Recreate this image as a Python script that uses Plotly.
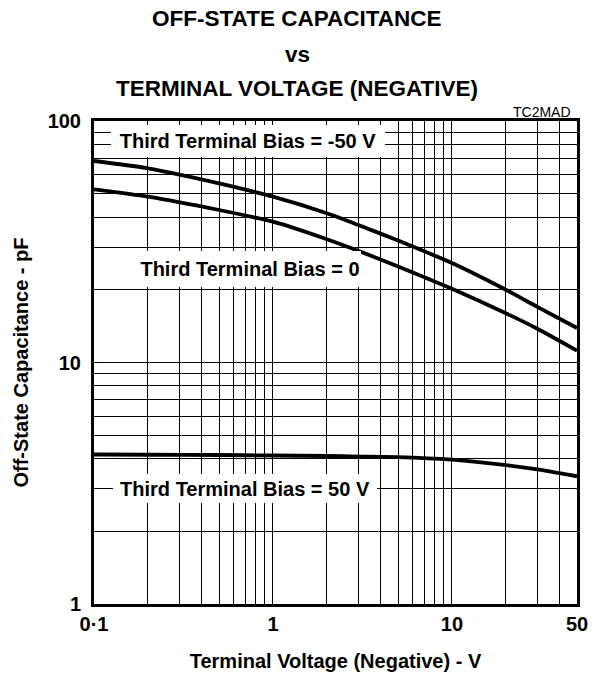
import plotly.graph_objects as go

# ---- data ----
voltage = [0.1, 0.2, 0.5, 1, 2, 3, 5, 10, 20, 30, 50]
cap_bias_neg50 = [68.3, 63.7, 55.2, 48.6, 41.5, 37.1, 32.0, 25.8, 20.0, 17.0, 13.9]
cap_bias_0 = [52.1, 48.6, 42.8, 38.3, 32.4, 29.0, 25.0, 20.2, 16.0, 13.8, 11.2]
cap_bias_pos50 = [4.16, 4.15, 4.14, 4.12, 4.10, 4.08, 4.06, 3.96, 3.76, 3.61, 3.38]

x_tick_vals = [0.1, 1, 10, 50]
x_tick_text = ["0·1", "1", "10", "50"]
x_minor_vals = [0.2, 0.3, 0.4, 0.5, 0.6, 0.7, 0.8, 0.9, 2, 3, 4, 5, 6, 7, 8, 9, 20, 30, 40]
y_tick_vals = [1, 10, 100]
y_tick_text = ["1", "10", "100"]
y_minor_vals = [2, 3, 4, 5, 6, 7, 8, 9, 20, 30, 40, 50, 60, 70, 80, 90]

series_labels = ["Third Terminal Bias = -50 V", "Third Terminal Bias = 0", "Third Terminal Bias = 50 V"]

FONT = "Liberation Sans, Arial, sans-serif"

fig = go.Figure()
for ys in (cap_bias_neg50, cap_bias_0, cap_bias_pos50):
    fig.add_trace(go.Scatter(x=voltage, y=ys, mode="lines",
                             line=dict(color="black", width=3.8, shape="spline", smoothing=0.6),
                             showlegend=False, hoverinfo="skip"))

axis_common = dict(
    showline=True, linecolor="black", linewidth=3, mirror=True,
    showgrid=True, gridcolor="black", gridwidth=1,
    zeroline=False, automargin=False,
    tickfont=dict(family=FONT, size=20, color="black", weight="bold"),
)

fig.update_xaxes(type="log", range=[-1, 1.69897], tickmode="array",
                 tickvals=x_tick_vals, ticktext=x_tick_text, ticks="",
                 minor=dict(tickmode="array", tickvals=x_minor_vals, showgrid=True,
                            gridcolor="black", gridwidth=1, ticks=""),
                 title=dict(text="Terminal Voltage (Negative) - V", standoff=20,
                            font=dict(family=FONT, size=20, color="black", weight="bold")),
                 **axis_common)
fig.update_yaxes(type="log", range=[0, 2], tickmode="array",
                 tickvals=y_tick_vals, ticktext=y_tick_text,
                 ticks="outside", ticklen=6, tickcolor="rgba(0,0,0,0)",
                 minor=dict(tickmode="array", tickvals=y_minor_vals, showgrid=True,
                            gridcolor="black", gridwidth=1, ticks=""),
                 title=dict(text="Off-State Capacitance - pF", standoff=14,
                            font=dict(family=FONT, size=20, color="black", weight="bold")),
                 **axis_common)

# series labels (white boxes over the grid)
label_boxes = [
    (0.319, 0.959, 274, 32),
    (0.323, 0.694, 222, 36),
    (0.3116, 0.240, 264, 29),
]
for text, (px, py, w, h) in zip(series_labels, label_boxes):
    fig.add_annotation(x=px, y=py, xref="paper", yref="paper", text=text, showarrow=False,
                       bgcolor="white", borderwidth=0, borderpad=0, width=w, height=h,
                       xanchor="center", yanchor="middle",
                       font=dict(family=FONT, size=20, color="black", weight="bold"))

# title lines
title_lines = ["OFF-STATE CAPACITANCE", "vs", "TERMINAL VOLTAGE (NEGATIVE)"]
title_y = [1.2122, 1.1387, 1.0663]
for t, ty in zip(title_lines, title_y):
    fig.add_annotation(x=(297 - 94) / 483, y=ty, xref="paper", yref="paper", text=t,
                       showarrow=False, xanchor="center", yanchor="middle",
                       font=dict(family=FONT, size=22.5, color="black", weight="bold"))

fig.add_annotation(x=(573 - 94) / 483, y=1.0193, xref="paper", yref="paper", text="TC2MAD",
                   showarrow=False, xanchor="right", yanchor="middle",
                   font=dict(family=FONT, size=14, color="black"))

fig.update_layout(width=594, height=676, margin=dict(l=94, r=17, t=121, b=72),
                  paper_bgcolor="white", plot_bgcolor="white")

fig.write_html("out.html", config={"displayModeBar": False},
               post_script="document.body.style.margin='0';document.body.style.overflow='hidden';")
